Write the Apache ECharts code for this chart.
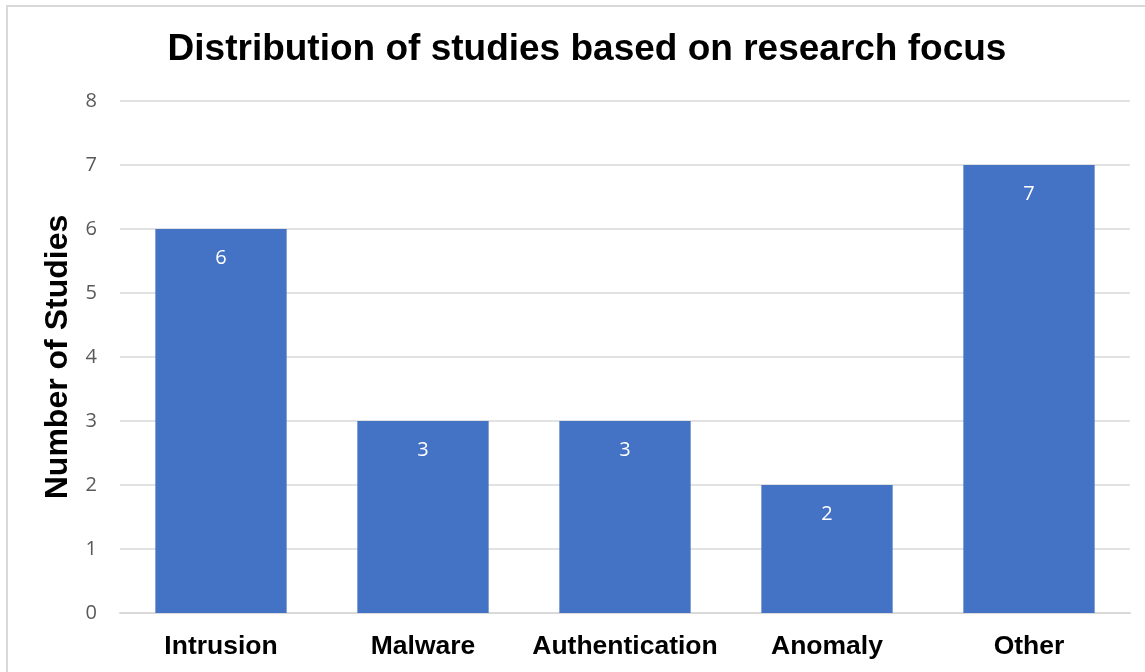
<!DOCTYPE html>
<html><head><meta charset="utf-8">
<script src="https://cdn.jsdelivr.net/npm/echarts@6/dist/echarts.min.js"></script>
<style>html,body{margin:0;padding:0;background:#fff}#c{width:1145px;height:672px}
#b{position:absolute;left:6px;top:5px;width:1150px;height:680px;border:2px solid #d9d9d9;box-sizing:border-box;pointer-events:none}</style>
</head><body><div id="c"></div><div id="b"></div>
<script>
const categories = ['Intrusion', 'Malware', 'Authentication', 'Anomaly', 'Other'];
const studies = [6, 3, 3, 2, 7];
const yTicks = [0, 1, 2, 3, 4, 5, 6, 7, 8];

const chart = echarts.init(document.getElementById('c'), null, {renderer: 'canvas'});
chart.setOption({
  animation: false,
  title: {
    text: 'Distribution of studies based on research focus',
    left: 582, top: 26, textAlign: 'center',
    textStyle: {fontFamily: 'Liberation Sans, Arial', fontWeight: 'bold', fontSize: 37, color: '#000'}
  },
  grid: {left: 120, right: 15, top: 101, bottom: 59},
  xAxis: {
    type: 'category', data: categories,
    axisLine: {lineStyle: {color: '#d9d9d9', width: 2}},
    axisTick: {show: false},
    axisLabel: {interval: 0, fontFamily: 'Liberation Sans, Arial', fontWeight: 'bold', fontSize: 26.5, color: '#000', margin: 20}
  },
  yAxis: {
    type: 'value', min: yTicks[0], max: yTicks[yTicks.length - 1], interval: 1,
    name: 'Number of Studies', nameLocation: 'middle', nameGap: 45,
    nameTextStyle: {fontFamily: 'Liberation Sans, Arial', fontWeight: 'bold', fontSize: 32, color: '#000'},
    axisLine: {show: false}, axisTick: {show: false},
    splitLine: {lineStyle: {color: '#d9d9d9', width: 1.5}},
    axisLabel: {fontFamily: 'Open Sans, Liberation Sans', fontSize: 20, color: '#595959', margin: 23}
  },
  series: [{
    type: 'bar', data: studies, barWidth: '65%',
    itemStyle: {color: '#4472C4'},
    label: {show: true, position: 'insideTop', distance: 19, color: '#fff', fontSize: 20, fontFamily: 'Open Sans, Liberation Sans'}
  }]
});
</script></body></html>
